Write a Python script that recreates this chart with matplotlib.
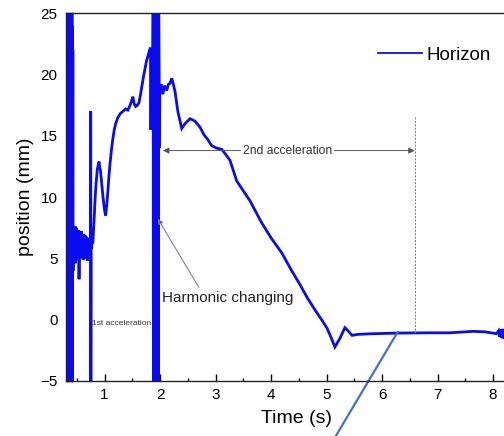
import matplotlib
matplotlib.use("Agg")
import matplotlib.pyplot as plt
from matplotlib.ticker import MultipleLocator

plt.rcParams['font.family'] = ['Liberation Sans', 'DejaVu Sans']

# ---- data (time in s, position in mm) ----
time_s = [
    0.300, 0.304, 0.308, 0.312, 0.316, 0.320, 0.324, 0.328, 0.332, 0.336, 0.340, 0.344,
    0.350, 0.356, 0.362, 0.368, 0.374,
    0.380, 0.384, 0.388, 0.392, 0.396, 0.400, 0.404, 0.408, 0.412, 0.416, 0.420, 0.424, 0.428, 0.432, 0.436,
    0.440, 0.445, 0.450, 0.455, 0.460, 0.465, 0.470, 0.475, 0.480, 0.485,
    0.490, 0.495, 0.500, 0.505, 0.510, 0.515, 0.520, 0.525, 0.530, 0.535,
    0.540, 0.545, 0.550, 0.555, 0.560, 0.565, 0.570, 0.575, 0.580, 0.585,
    0.590, 0.595, 0.600, 0.605, 0.610, 0.615, 0.620, 0.625, 0.630, 0.635,
    0.640, 0.645, 0.650, 0.655, 0.660, 0.665, 0.670, 0.675, 0.680, 0.685,
    0.690, 0.695, 0.700, 0.705, 0.710, 0.715, 0.720, 0.725, 0.730, 0.735,
    0.740, 0.745,
    0.748, 0.750, 0.753, 0.757, 0.765, 0.775, 0.785,
    0.79, 0.81, 0.825, 0.845, 0.87, 0.885, 0.90, 0.91, 0.925, 0.95, 0.97, 0.99, 1.005, 1.02,
    1.04, 1.06, 1.08, 1.10, 1.125, 1.15, 1.175, 1.20, 1.24, 1.28, 1.33, 1.38, 1.42, 1.46,
    1.49, 1.51, 1.535, 1.56, 1.59, 1.62, 1.645, 1.67, 1.70, 1.73, 1.755, 1.78, 1.80, 1.825,
    1.830, 1.835, 1.842, 1.852, 1.868,
    1.875, 1.880, 1.885, 1.890, 1.895, 1.900, 1.905, 1.910, 1.915, 1.920, 1.925, 1.930, 1.935,
    1.940, 1.945, 1.950, 1.955, 1.960, 1.965, 1.970, 1.975,
    1.985, 1.990, 1.996, 2.02, 2.05, 2.08, 2.12, 2.15, 2.18, 2.21, 2.24, 2.27, 2.32, 2.39, 2.45,
    2.54, 2.63, 2.72, 2.79, 2.86, 2.93, 3.02, 3.11, 3.18, 3.26, 3.38, 3.62, 3.83, 4.01, 4.19,
    4.37, 4.52, 4.66, 4.81, 4.92, 5.01, 5.08, 5.15, 5.24, 5.33, 5.38, 5.46, 5.56, 5.78, 6.32,
    6.86, 7.22, 7.64, 7.85, 8.06, 8.10, 8.12, 8.14, 8.16, 8.18, 8.20, 8.22, 8.24, 8.26, 8.30,
    8.40, 8.60,
]
position_mm = [
    7.0, 26, -6, 26, -6, 26, -6, 26, -6, 26, -6, 7.0,
    6.5, 7.3, 5.8, 7.1, 6.0,
    26, -6, 26, -6, 26, -6, 26, -6, 26, -6, 24, 2, 22, 4, 7.0,
    5.2, 7.4, 5.0, 7.2, 5.5, 6.9, 4.6, 7.6, 5.3, 7.2,
    5.1, 7.5, 5.6, 7.3, 5.0, 7.0, 5.4, 6.8, 4.9, 7.3,
    3.3, 6.9, 5.2, 7.1, 5.4, 6.6, 5.0, 6.8, 5.3, 7.2,
    5.6, 6.4, 5.2, 6.7, 5.8, 6.3, 4.9, 7.0, 5.5, 6.6,
    5.1, 6.9, 5.4, 6.4, 5.0, 6.8, 5.6, 6.2, 5.3, 6.7,
    4.8, 6.5, 5.7, 6.3, 5.2, 6.6, 5.5, 6.1, 5.8, 6.4,
    5.6, 6.2,
    6.0, 17.0, -5.5, 6.2, 5.8, 6.5, 6.2,
    6.4, 8.0, 9.5, 11.0, 12.3, 12.6, 12.9, 12.5, 12.2, 11.0, 10.1, 9.3, 8.8, 8.5,
    9.4, 10.5, 11.8, 12.8, 13.9, 14.8, 15.5, 16.0, 16.5, 16.8, 17.0, 17.2, 17.1, 17.5,
    17.9, 18.2, 17.6, 17.4, 17.5, 17.7, 18.3, 19.0, 19.8, 20.5, 21.1, 21.5, 21.8, 22.2,
    22.0, 15.5, 21.5, 20.3, 20.0,
    26, -6, 26, -6, 26, -6, 26, -6, 26, -6, 26, -6, 26,
    -6, 26, -6, 26, -6, 26, -6, 26,
    19.0, 14.0, 18.6, 19.2, 18.4, 19.1, 18.7, 19.2, 19.3, 19.7, 19.2, 18.6, 17.0, 15.6, 16.0,
    16.4, 16.2, 15.7, 15.1, 14.7, 14.2, 14.0, 13.9, 13.5, 13.0, 11.33, 9.70, 7.91, 6.61, 5.47,
    4.01, 2.87, 1.73, 0.67, -0.06, -0.71, -1.44, -2.23, -1.52, -0.65, -0.87, -1.28, -1.20, -1.15, -1.09,
    -1.07, -1.07, -0.95, -0.99, -1.14, -0.9, -1.4, -0.8, -1.5, -0.75, -1.55, -0.8, -1.5, -0.9, -1.3,
    -1.1, -1.1,
]
series_label = "Horizon"
x_ticks = [1, 2, 3, 4, 5, 6, 7, 8]
y_ticks = [-5, 0, 5, 10, 15, 20, 25]

# annotation anchor values (data units)
second_acc_start, second_acc_end, second_acc_y = 2.05, 6.59, 13.8
dash_x, dash_top, dash_bottom = 6.59, 16.5, -1.05
harm_tip = (1.96, 8.24)
harm_tail = (2.70, 2.63)
harm_text_pos = (2.03, 1.73)
first_acc_pos = (0.77, -0.28)
pointer_start = (6.28, -1.01)
pointer_end = (5.06, -10.3)

fig = plt.figure(figsize=(5.04, 4.36), dpi=100)
ax = fig.add_axes([0.1304, 0.1262, 0.914, 0.8433])

ax.plot(time_s, position_mm, color='#0b0bf0', lw=2.0, label=series_label,
        solid_joinstyle='miter')

ax.set_xlim(0.3, 8.6)
ax.set_ylim(-5, 25)
ax.set_xticks(x_ticks)
ax.set_yticks(y_ticks)
ax.xaxis.set_minor_locator(MultipleLocator(0.5))
ax.yaxis.set_minor_locator(MultipleLocator(2.5))
ax.tick_params(which='major', direction='in', length=4.8, width=1.0, labelsize=11, pad=5)
ax.tick_params(which='minor', direction='in', length=2.4, width=1.0)
ax.tick_params(axis='y', pad=6)
for s in ax.spines.values():
    s.set_linewidth(1.0)
    s.set_color('#222222')

ax.set_xlabel("Time (s)", fontsize=14, labelpad=6)
ax.set_ylabel("position (mm)", fontsize=14, labelpad=4)

# legend
leg = ax.legend(loc='center left', bbox_to_anchor=(5.92, 21.57), bbox_transform=ax.transData,
                frameon=False, fontsize=13.5, handlelength=2.35, handletextpad=0.27,
                borderpad=0, borderaxespad=0)
for h in leg.get_lines():
    h.set_linewidth(1.3)

# 2nd acceleration double arrow
ax.annotate("", xy=(second_acc_start, second_acc_y), xytext=(second_acc_end, second_acc_y),
            arrowprops=dict(arrowstyle='<|-|>', color='#555555', lw=0.7,
                            mutation_scale=9, shrinkA=0, shrinkB=0))
ax.text((second_acc_start + second_acc_end) / 2 - 0.03, second_acc_y, "2nd acceleration",
        fontsize=8.7, ha='center', va='center', color='#333333',
        bbox=dict(facecolor='white', edgecolor='none', pad=1.5))

# dashed vertical marker
ax.plot([dash_x, dash_x], [dash_top, dash_bottom], color='#777777', lw=0.7, ls=(0, (2, 1.5)))

# Harmonic changing annotation
ax.annotate("", xy=harm_tip, xytext=harm_tail,
            arrowprops=dict(arrowstyle='-|>', color='#777777', lw=0.7,
                            mutation_scale=8, shrinkA=0, shrinkB=0))
ax.text(harm_text_pos[0], harm_text_pos[1], "Harmonic changing", fontsize=11,
        ha='left', va='center', color='#222222')

ax.text(first_acc_pos[0], first_acc_pos[1], "1st acceleration", fontsize=6,
        ha='left', va='center', color='#333333')

# pointer line running off the figure
ax.plot([pointer_start[0], pointer_end[0]], [pointer_start[1], pointer_end[1]],
        color='#4472c4', lw=1.6, clip_on=False)

fig.savefig("out.png", dpi=100)
